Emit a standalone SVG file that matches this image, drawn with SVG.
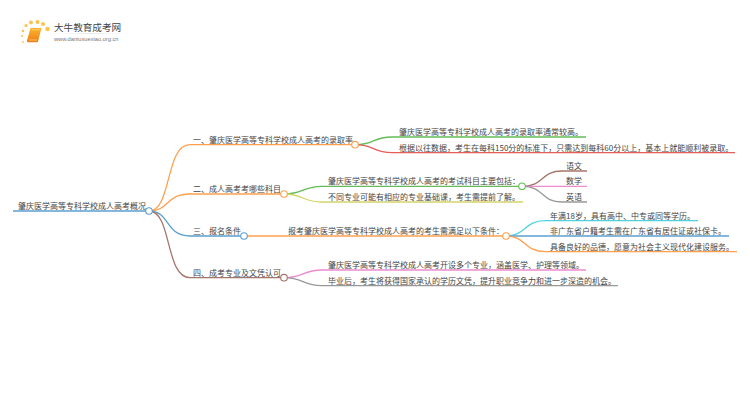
<svg xmlns="http://www.w3.org/2000/svg" width="750" height="410" viewBox="0 0 750 410">
<defs>
<linearGradient id="book" x1="0" y1="0" x2="0" y2="1"><stop offset="0" stop-color="#fbb52c"/><stop offset="1" stop-color="#ec7d17"/></linearGradient>
<linearGradient id="rule" x1="0" y1="0" x2="1" y2="0"><stop offset="0" stop-color="#ddd" stop-opacity="0"/><stop offset=".5" stop-color="#ddd"/><stop offset="1" stop-color="#ddd" stop-opacity="0"/></linearGradient>
</defs>
<style>
text{font-family:"Noto Sans CJK SC","Liberation Sans",sans-serif;font-size:8px;fill:#444}
.c{fill:none;stroke-width:1.3}
.n{fill:#fff;stroke-width:1.1}
.or{stroke:#ffa04d}.bl{stroke:#5b9fd0}.br{stroke:#a5766a}.gr{stroke:#63bd56}.re{stroke:#e85c5c}
.ye{stroke:#d3d36a}.pk{stroke:#ec8ccf}.gy{stroke:#999}.cy{stroke:#4fd2e0}
.d{fill:#fbc34a}
</style>
<rect width="750" height="410" fill="#fff"/>
<g id="logo">
<circle class="d" cx="23" cy="31" r="1.2"/><circle class="d" cx="22" cy="36" r="1"/><circle class="d" cx="26" cy="25.500" r="1.600"/><circle class="d" cx="31" cy="22.500" r="1.900"/><circle class="d" cx="37.500" cy="22" r="2"/><circle class="d" cx="43" cy="24" r="2"/><circle class="d" cx="47.500" cy="29" r="2.200"/><circle class="d" cx="23" cy="42" r=".9"/>
<path d="M30.500 28H41.500L38 41.500Q37.800 42.300 37 42.300H28Q26.600 42.300 27 40.500Z" fill="url(#book)"/><path d="M31.500 29.800H40M29 40H37" stroke="#fde08a" stroke-width=".7"/>
<rect x="50" y="33" width="84" height=".6" fill="url(#rule)"/>
<text x="54" y="31" style="font-size:9.600px">大牛教育成考网</text>
<text x="54" y="41" style="font-size:5.700px;fill:#777;font-family:'Liberation Sans',sans-serif">www.daniuxuexiao.org.cn</text>
</g>
<g id="connectors">
<path class="c bl" d="M13 211H149"/>
<path class="c or" d="M149 211C172 211 165 144.700 190 144.700H355"/>
<path class="c or" d="M149 211C170 211 165 194 190 194H284"/>
<path class="c bl" d="M149 211C170 211 165 236 190 236H244"/>
<path class="c br" d="M149 211C172 211 165 277.700 190 277.700H284"/>
<path class="c gr" d="M355 144.700C375 144.700 372 137 392 137H586"/>
<path class="c re" d="M355 144.700C375 144.700 372 152.700 392 152.700H735"/>
<path class="c gr" d="M284 194C304 194 302 186.300 322 186.300H522"/>
<path class="c ye" d="M284 194C304 194 302 202 322 202H523"/>
<path class="c br" d="M522 186.300C545 186.300 540 171 562 171H587"/>
<path class="c pk" d="M522 186.300H587"/>
<path class="c gy" d="M522 186.300C545 186.300 540 202 562 202H587"/>
<path class="c or" d="M244 236H506"/>
<path class="c cy" d="M506 236C526 236 524 220.700 545 220.700H698"/>
<path class="c bl" d="M506 236H729"/>
<path class="c or" d="M506 236C526 236 524 251.700 545 251.700H737"/>
<path class="c pk" d="M284 277.700C304 277.700 302 270 322 270H586"/>
<path class="c gy" d="M284 277.700C304 277.700 302 285.700 322 285.700H618"/>
</g>
<g id="root"><text x="18" y="209">肇庆医学高等专科学校成人高考概况</text><circle class="n bl" cx="149" cy="211" r="3.300"/></g>
<g id="b1"><text x="193" y="142.700">一、肇庆医学高等专科学校成人高考的录取率</text><circle class="n or" cx="355" cy="144.700" r="3.300"/></g>
<g id="b2"><text x="193" y="192">二、成人高考考哪些科目</text><circle class="n or" cx="284" cy="194" r="3.300"/></g>
<g id="b3"><text x="193" y="234">三、报名条件</text><circle class="n bl" cx="244" cy="236" r="3.300"/></g>
<g id="b4"><text x="193" y="275.700">四、成考专业及文凭认可</text><circle class="n br" cx="284" cy="277.700" r="3.300"/></g>
<g id="n11"><text x="399" y="135">肇庆医学高等专科学校成人高考的录取率通常较高。</text></g>
<g id="n12"><text x="399" y="150.700">根据以往数据，考生在每科150分的标准下，只需达到每科60分以上，基本上就能顺利被录取。</text></g>
<g id="n21"><text x="328" y="184.300">肇庆医学高等专科学校成人高考的考试科目主要包括：</text><circle class="n gr" cx="522" cy="186.300" r="3.300"/></g>
<g id="n22"><text x="328" y="200">不同专业可能有相应的专业基础课，考生需提前了解。</text></g>
<g id="n211"><text x="566" y="169">语文</text></g>
<g id="n212"><text x="566" y="184.300">数学</text></g>
<g id="n213"><text x="566" y="200">英语</text></g>
<g id="n31"><text x="288" y="234">报考肇庆医学高等专科学校成人高考的考生需满足以下条件：</text><circle class="n or" cx="506" cy="236" r="3.300"/></g>
<g id="n311"><text x="550" y="218.700">年满18岁，具有高中、中专或同等学历。</text></g>
<g id="n312"><text x="550" y="234">非广东省户籍考生需在广东省有居住证或社保卡。</text></g>
<g id="n313"><text x="550" y="249.700">具备良好的品德，愿意为社会主义现代化建设服务。</text></g>
<g id="n41"><text x="328" y="268">肇庆医学高等专科学校成人高考开设多个专业，涵盖医学、护理等领域。</text></g>
<g id="n42"><text x="328" y="283.700">毕业后，考生将获得国家承认的学历文凭，提升职业竞争力和进一步深造的机会。</text></g>
</svg>
